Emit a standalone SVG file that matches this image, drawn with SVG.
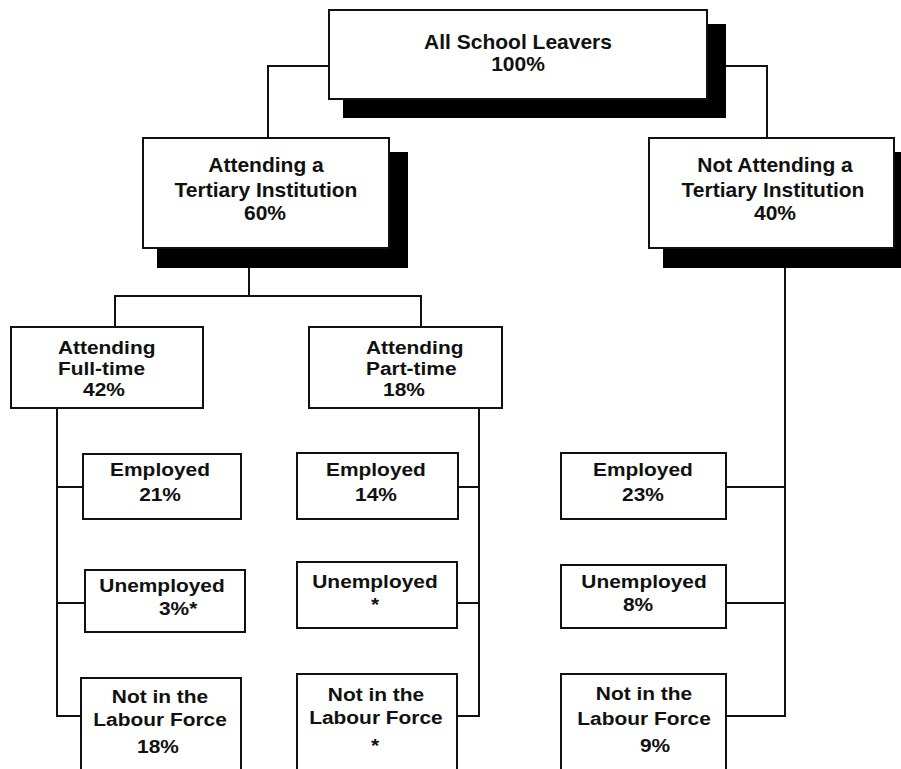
<svg xmlns="http://www.w3.org/2000/svg" width="901" height="769" viewBox="0 0 901 769">
<style>
.box{fill:#fff;stroke:#111;stroke-width:2}
.sh{fill:#000}
.ln{fill:none;stroke:#111;stroke-width:2}
text{font-family:"Liberation Sans",Arial,sans-serif;font-weight:bold;fill:#111}
.big{font-size:21px;text-anchor:middle}
.sm{font-size:19px;text-anchor:middle}
.st{text-anchor:start}
</style>
<rect width="901" height="769" fill="#fff"/>
<g id="connectors">
<polyline class="ln" points="329,66 268,66 268,138"/>
<polyline class="ln" points="726,66 767,66 767,138"/>
<polyline class="ln" points="249,268 249,296"/>
<polyline class="ln" points="115,327 115,296 421,296 421,327"/>
<polyline class="ln" points="57,408 57,716 81,716"/>
<line class="ln" x1="57" y1="487" x2="83" y2="487"/>
<line class="ln" x1="57" y1="603" x2="85" y2="603"/>
<polyline class="ln" points="479,408 479,716 457,716"/>
<line class="ln" x1="479" y1="487" x2="458" y2="487"/>
<line class="ln" x1="479" y1="603" x2="457" y2="603"/>
<polyline class="ln" points="785,268 785,716 726,716"/>
<line class="ln" x1="785" y1="487" x2="726" y2="487"/>
<line class="ln" x1="785" y1="603" x2="726" y2="603"/>
</g>
<g id="all">
<rect class="sh" x="343" y="24" width="383" height="94"/>
<rect class="box" x="329" y="10" width="378" height="89"/>
<text class="big" x="518" y="49">All School Leavers</text>
<text class="big" x="518" y="71">100%</text>
</g>
<g id="attending">
<rect class="sh" x="157" y="152" width="251" height="116"/>
<rect class="box" x="143" y="138" width="246" height="110"/>
<text class="big" x="266" y="172">Attending a</text>
<text class="big" x="266" y="197">Tertiary Institution</text>
<text class="big" x="265" y="220">60%</text>
</g>
<g id="notattending">
<rect class="sh" x="663" y="152" width="240" height="116"/>
<rect class="box" x="649" y="138" width="245" height="110"/>
<text class="big" x="775" y="172">Not Attending a</text>
<text class="big" x="773" y="197">Tertiary Institution</text>
<text class="big" x="775" y="220">40%</text>
</g>
<g id="fulltime">
<rect class="box" x="11" y="327" width="192" height="81"/>
<g transform="scale(1.1 1)">
<text class="sm st" x="52.7" y="354">Attending</text>
<text class="sm st" x="52.7" y="375">Full-time</text>
<text class="sm" x="94.5" y="396">42%</text>
</g>
</g>
<g id="parttime">
<rect class="box" x="309" y="327" width="193" height="81"/>
<g transform="scale(1.1 1)">
<text class="sm st" x="332.7" y="354">Attending</text>
<text class="sm st" x="332.7" y="375">Part-time</text>
<text class="sm" x="367.3" y="396">18%</text>
</g>
</g>
<g id="emp-ft">
<rect class="box" x="83" y="454" width="158" height="65"/>
<g transform="scale(1.1 1)">
<text class="sm" x="145.5" y="476">Employed</text>
<text class="sm" x="145.5" y="501">21%</text>
</g>
</g>
<g id="unemp-ft">
<rect class="box" x="85" y="570" width="160" height="62"/>
<g transform="scale(1.1 1)">
<text class="sm" x="147.3" y="592">Unemployed</text>
<text class="sm st" x="144.5" y="615">3%*</text>
</g>
</g>
<g id="nlf-ft">
<rect class="box" x="81" y="678" width="160" height="112"/>
<g transform="scale(1.1 1)">
<text class="sm" x="145.5" y="703">Not in the</text>
<text class="sm" x="145.5" y="726">Labour Force</text>
<text class="sm" x="143.6" y="753">18%</text>
</g>
</g>
<g id="emp-pt">
<rect class="box" x="297" y="453" width="161" height="66"/>
<g transform="scale(1.1 1)">
<text class="sm" x="341.8" y="476">Employed</text>
<text class="sm" x="341.8" y="501">14%</text>
</g>
</g>
<g id="unemp-pt">
<rect class="box" x="297" y="562" width="160" height="66"/>
<g transform="scale(1.1 1)">
<text class="sm" x="340.9" y="588">Unemployed</text>
<text class="sm" x="340.9" y="611">*</text>
</g>
</g>
<g id="nlf-pt">
<rect class="box" x="297" y="674" width="160" height="116"/>
<g transform="scale(1.1 1)">
<text class="sm" x="341.8" y="701">Not in the</text>
<text class="sm" x="341.8" y="724">Labour Force</text>
<text class="sm" x="340.9" y="752">*</text>
</g>
</g>
<g id="emp-na">
<rect class="box" x="561" y="453" width="165" height="66"/>
<g transform="scale(1.1 1)">
<text class="sm" x="584.5" y="476">Employed</text>
<text class="sm" x="584.5" y="501">23%</text>
</g>
</g>
<g id="unemp-na">
<rect class="box" x="561" y="565" width="165" height="63"/>
<g transform="scale(1.1 1)">
<text class="sm" x="585.5" y="588">Unemployed</text>
<text class="sm" x="580" y="611">8%</text>
</g>
</g>
<g id="nlf-na">
<rect class="box" x="561" y="674" width="165" height="116"/>
<g transform="scale(1.1 1)">
<text class="sm" x="585.5" y="700">Not in the</text>
<text class="sm" x="585.5" y="725">Labour Force</text>
<text class="sm" x="595.5" y="752">9%</text>
</g>
</g>
</svg>
